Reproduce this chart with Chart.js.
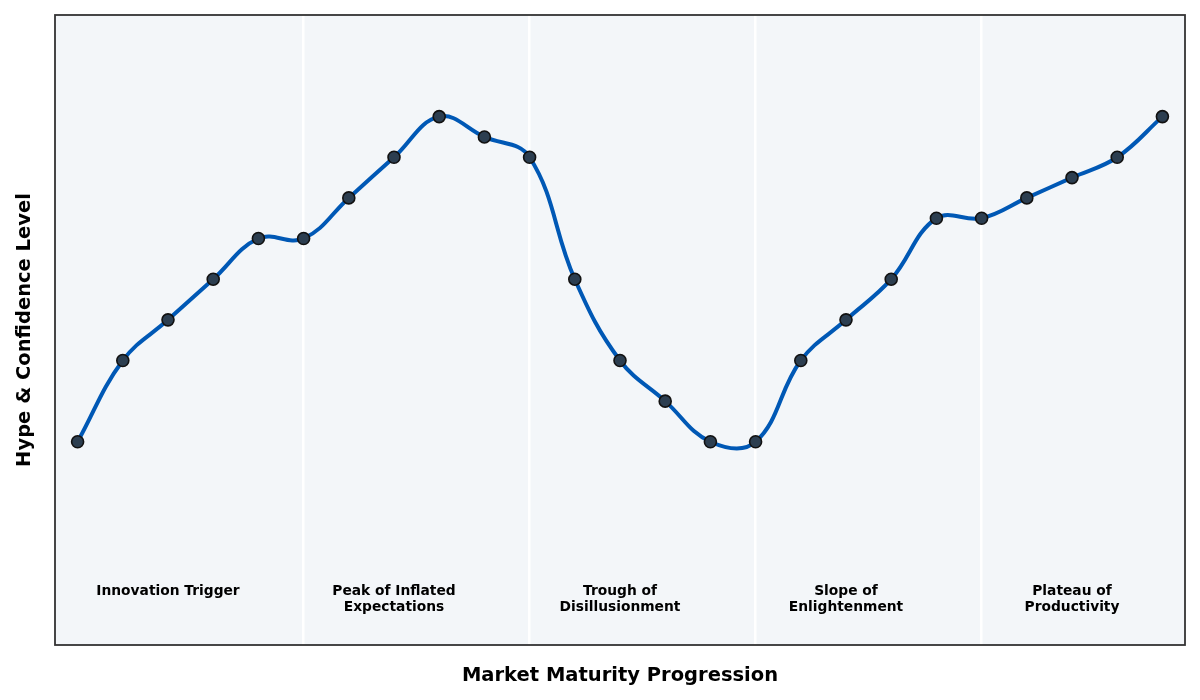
<!DOCTYPE html>
<html lang="en">
<head>
    <meta charset="UTF-8">
    <title>Hype Cycle</title>
    <script src="https://cdn.jsdelivr.net/npm/chart.js"></script>
    <style>
        html, body { margin: 0; padding: 0; background: #fff; }
        #wrap { width: 1200px; height: 700px; }
    </style>
</head>
<body>
    <div id="wrap"><canvas id="hypeChart"></canvas></div>

    <script>
        // values
        const hypeLevels = [20, 40, 50, 60, 70, 70, 80, 90, 100, 95, 90, 60, 40, 30, 20, 20, 40, 50, 60, 75, 75, 80, 85, 90, 100];
        const phaseBreaks = [5, 10, 15, 20];
        const phaseNames = [
            ['Innovation Trigger'],
            ['Peak of Inflated', 'Expectations'],
            ['Trough of', 'Disillusionment'],
            ['Slope of', 'Enlightenment'],
            ['Plateau of', 'Productivity']
        ];
        const phaseCenters = [2, 7, 12, 17, 22];
        const phaseLabelY = -15;

        const font = "'DejaVu Sans', sans-serif";

        const chartFrame = {
            id: 'chartFrame',
            beforeDraw(chart) {
                const { ctx, chartArea: a } = chart;
                ctx.save();
                ctx.fillStyle = '#f3f6f9';
                ctx.fillRect(a.left, a.top, a.right - a.left, a.bottom - a.top);
                ctx.restore();
            },
            afterDatasetsDraw(chart) {
                const { ctx, chartArea: a, scales } = chart;
                ctx.save();
                ctx.fillStyle = '#000';
                ctx.font = 'bold 13.8px ' + font;
                ctx.textAlign = 'center';
                ctx.textBaseline = 'top';
                phaseNames.forEach((lines, i) => {
                    const x = scales.x.getPixelForValue(phaseCenters[i]);
                    const y = scales.y.getPixelForValue(phaseLabelY);
                    lines.forEach((t, j) => ctx.fillText(t, x, y + j * 16));
                });
                ctx.strokeStyle = '#333';
                ctx.lineWidth = 1.8;
                ctx.strokeRect(a.left, a.top, a.right - a.left, a.bottom - a.top);
                ctx.restore();
            }
        };

        const ctx = document.getElementById('hypeChart').getContext('2d');
        new Chart(ctx, {
            type: 'line',
            data: {
                datasets: [{
                    data: hypeLevels.map((v, i) => ({ x: i, y: v })),
                    borderColor: '#0058b5',
                    borderWidth: 4,
                    tension: 0.4,
                    pointRadius: 6,
                    pointBackgroundColor: '#2c3e50',
                    pointBorderColor: '#111',
                    pointBorderWidth: 1.6,
                    fill: false
                }]
            },
            options: {
                responsive: true,
                maintainAspectRatio: false,
                animation: false,
                devicePixelRatio: 1,
                layout: { padding: { top: 15, right: 15, left: 0, bottom: 0 } },
                plugins: {
                    legend: { display: false },
                    tooltip: { enabled: false }
                },
                scales: {
                    x: {
                        type: 'linear',
                        min: -0.5,
                        max: 24.5,
                        afterBuildTicks: s => { s.ticks = phaseBreaks.map(v => ({ value: v })); },
                        afterFit: s => { s.height = 55; },
                        ticks: { display: false },
                        border: { display: false },
                        grid: { color: '#ffffff', lineWidth: 2.5, drawTicks: false },
                        title: {
                            display: true,
                            text: 'Market Maturity Progression',
                            color: '#000',
                            font: { family: font, size: 19.5, weight: 'bold' },
                            padding: { top: 0, bottom: 12 }
                        }
                    },
                    y: {
                        min: -30,
                        max: 125,
                        afterFit: s => { s.width = 55; },
                        ticks: { display: false },
                        border: { display: false },
                        grid: { display: false },
                        title: {
                            display: true,
                            text: 'Hype & Confidence Level',
                            color: '#000',
                            font: { family: font, size: 19.5, weight: 'bold' },
                            padding: { top: 13, bottom: 0 }
                        }
                    }
                }
            },
            plugins: [chartFrame]
        });
    </script>
</body>
</html>
